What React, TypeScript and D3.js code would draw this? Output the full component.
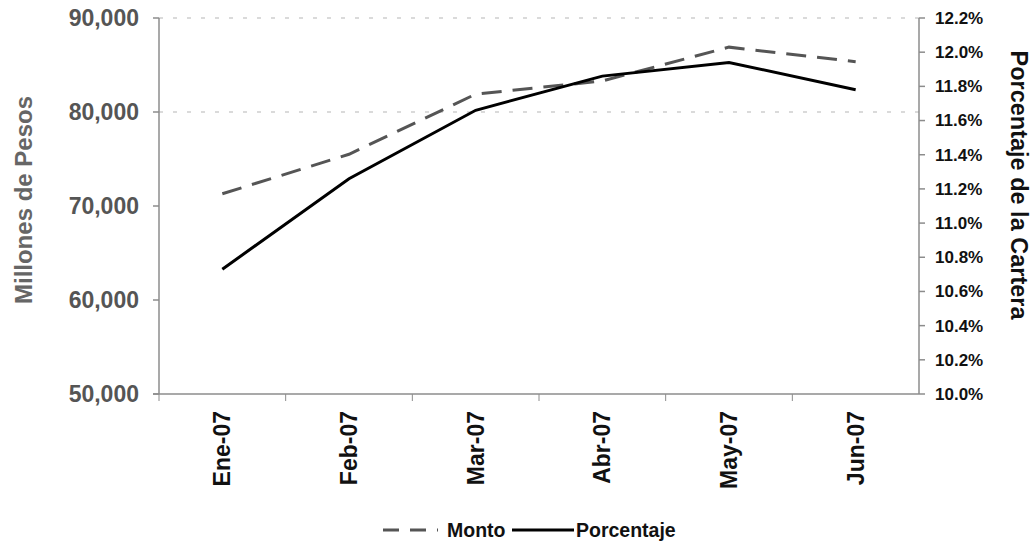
import React from "react";
import * as d3 from "d3";

const categories = ["Ene-07", "Feb-07", "Mar-07", "Abr-07", "May-07", "Jun-07"];
const monto = [71300, 75500, 81900, 83300, 86900, 85350];
const porcentaje = [10.73, 11.26, 11.66, 11.86, 11.94, 11.78];
const leftTicks = [50000, 60000, 70000, 80000, 90000];
const rightTicks = [10.0, 10.2, 10.4, 10.6, 10.8, 11.0, 11.2, 11.4, 11.6, 11.8, 12.0, 12.2];
const gridTicks = [80000, 90000];

const W = 1031;
const H = 543;
const L = 159;
const R = 919;
const T = 18;
const B = 394;

export default function App() {
  const x = d3.scaleBand<string>().domain(categories).range([L, R]);
  const yL = d3.scaleLinear().domain([50000, 90000]).range([B, T]);
  const yR = d3.scaleLinear().domain([10, 12.2]).range([B, T]);
  const cx = (c: string) => (x(c) as number) + x.bandwidth() / 2;
  const fmtL = d3.format(",");
  const fmtR = (v: number) => v.toFixed(1) + "%";

  const lineM = d3
    .line<number>()
    .x((_, i) => cx(categories[i]))
    .y((d) => yL(d));
  const lineP = d3
    .line<number>()
    .x((_, i) => cx(categories[i]))
    .y((d) => yR(d));

  const font = "'Liberation Sans', Arial, sans-serif";
  const axisColor = "#8c8c8c";

  return (
    <svg
      width={W}
      height={H}
      style={{ position: "absolute", left: 0, top: 0, background: "#fff" }}
      fontFamily={font}
    >
      {/* gridlines */}
      {gridTicks.map((t) => (
        <line
          key={"g" + t}
          x1={L}
          x2={R}
          y1={yL(t)}
          y2={yL(t)}
          stroke="#b5b5b5"
          strokeWidth={1}
          strokeDasharray="4,10"
        />
      ))}

      {/* left axis */}
      <line x1={L} x2={L} y1={T} y2={B} stroke={axisColor} strokeWidth={1.5} />
      {leftTicks.map((t) => (
        <g key={"l" + t}>
          <line x1={L - 6} x2={L} y1={yL(t)} y2={yL(t)} stroke={axisColor} strokeWidth={1.5} />
          <text
            x={L - 20}
            y={yL(t)}
            dy="0.35em"
            textAnchor="end"
            fontSize={23}
            fontWeight="bold"
            fill="#555"
          >
            {fmtL(t)}
          </text>
        </g>
      ))}

      {/* right axis */}
      <line x1={R} x2={R} y1={T} y2={B} stroke={axisColor} strokeWidth={1.5} />
      {rightTicks.map((t) => (
        <g key={"r" + t}>
          <line x1={R} x2={R + 6} y1={yR(t)} y2={yR(t)} stroke={axisColor} strokeWidth={1.5} />
          <text
            x={R + 16}
            y={yR(t)}
            dy="0.35em"
            textAnchor="start"
            fontSize={17}
            fontWeight="bold"
            fill="#111"
          >
            {fmtR(t)}
          </text>
        </g>
      ))}

      {/* bottom axis */}
      <line x1={L - 6} x2={R} y1={B} y2={B} stroke={axisColor} strokeWidth={1.5} />
      {categories.map((c) => (
        <line
          key={"bt" + c}
          x1={x(c) as number}
          x2={x(c) as number}
          y1={B}
          y2={B + 7}
          stroke={axisColor}
          strokeWidth={1}
        />
      ))}
      {categories.map((c) => (
        <text
          key={"xl" + c}
          transform={`translate(${cx(c) + 8},${B + 17}) rotate(-90)`}
          textAnchor="end"
          fontSize={23}
          fontWeight="bold"
          fill="#111"
        >
          {c}
        </text>
      ))}

      {/* axis titles */}
      <text
        transform={`translate(${32},${200}) rotate(-90)`}
        textAnchor="middle"
        fontSize={24}
        fontWeight="bold"
        fill="#666"
      >
        Millones de Pesos
      </text>
      <text
        transform={`translate(${1011},${185}) rotate(90)`}
        textAnchor="middle"
        fontSize={23.5}
        fontWeight="bold"
        fill="#111"
      >
        Porcentaje de la Cartera
      </text>

      {/* lines */}
      <path
        d={lineM(monto) || ""}
        fill="none"
        stroke="#555"
        strokeWidth={3}
        strokeDasharray="20,11"
      />
      <path d={lineP(porcentaje) || ""} fill="none" stroke="#000" strokeWidth={3} />

      {/* legend */}
      <line x1={383} x2={438} y1={530} y2={530} stroke="#555" strokeWidth={3} strokeDasharray="16,11" />
      <text x={447} y={530} dy="0.35em" fontSize={19.5} fontWeight="bold" fill="#111">
        Monto
      </text>
      <line x1={512} x2={574} y1={530} y2={530} stroke="#000" strokeWidth={3} />
      <text x={576} y={530} dy="0.35em" fontSize={19.5} fontWeight="bold" fill="#111">
        Porcentaje
      </text>
    </svg>
  );
}
